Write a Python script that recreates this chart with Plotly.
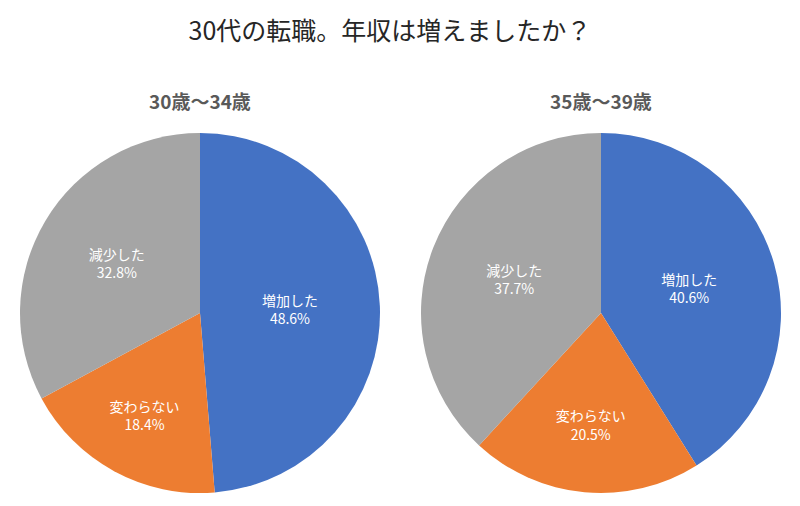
import plotly.graph_objects as go

title_text = "30代の転職。年収は増えましたか？"
group_titles = ["30歳～34歳", "35歳～39歳"]
answers = ["増加した", "変わらない", "減少した"]
share_30_34 = [48.6, 18.4, 32.8]
share_35_39 = [40.6, 20.5, 37.7]

colors = ["#4472C4", "#ED7D31", "#A5A5A5"]
jp_font = "Noto Sans CJK JP"

W, H = 800, 506
OFF = 8  # page body margin shifts the plot by 8px


def px_x(p):
    return (p - OFF) / W


def px_y(p):
    return 1 - (p - OFF) / H


fig = go.Figure()

# pie boxes in screen pixels: left/right edges, top/bottom
boxes = [(20, 380), (421, 781)]
for values, (x0, x1) in zip([share_30_34, share_35_39], boxes):
    fig.add_trace(
        go.Pie(
            labels=answers,
            values=values,
            sort=False,
            direction="clockwise",
            rotation=0,
            marker=dict(colors=colors, line=dict(width=0)),
            texttemplate="%{label}<br>%{value:.1f}%",
            textposition="inside",
            insidetextorientation="horizontal",
            textfont=dict(family=jp_font, size=14, color="white"),
            hoverinfo="label+value",
            showlegend=False,
            domain=dict(x=[px_x(x0), px_x(x1)], y=[px_y(493), px_y(133)]),
        )
    )

# subtitles above each pie
for name, (x0, x1) in zip(group_titles, boxes):
    fig.add_annotation(
        text=f"<b>{name}</b>",
        x=px_x((x0 + x1) / 2),
        y=px_y(100),
        xref="paper",
        yref="paper",
        xanchor="center",
        yanchor="middle",
        showarrow=False,
        font=dict(family=jp_font, size=19, color="#595959"),
    )

fig.update_layout(
    width=W,
    height=H,
    margin=dict(l=0, r=0, t=0, b=0),
    paper_bgcolor="white",
    plot_bgcolor="white",
    title=dict(
        text=title_text,
        x=px_x(390),
        xanchor="center",
        y=px_y(31),
        yanchor="middle",
        font=dict(family=jp_font, size=25, color="#262626"),
    ),
)

fig.write_html("out.html")
